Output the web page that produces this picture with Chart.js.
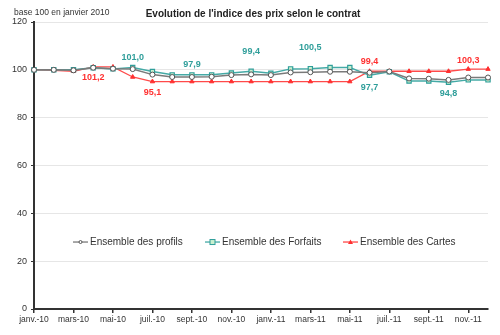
<!DOCTYPE html>
<html lang="fr">
<head>
<meta charset="utf-8">
<style>
  html, body { margin: 0; padding: 0; background: #fff; }
  #wrap { width: 500px; height: 335px; position: relative; }
</style>
</head>
<body>
<div id="wrap"><canvas id="myChart" width="500" height="335"></canvas></div>
<script src="https://cdn.jsdelivr.net/npm/chart.js"></script>
<script>
// months janv.-10 .. déc.-11
const months = ['janv.-10', 'févr.-10', 'mars-10', 'avr.-10', 'mai-10', 'juin-10',
  'juil.-10', 'août-10', 'sept.-10', 'oct.-10', 'nov.-10', 'déc.-10',
  'janv.-11', 'févr.-11', 'mars-11', 'avr.-11', 'mai-11', 'juin-11',
  'juil.-11', 'août-11', 'sept.-11', 'oct.-11', 'nov.-11', 'déc.-11'];

const profils = [100, 100, 99.8, 100.9, 100.5, 100.3, 98.0, 97.0, 97.0, 97.1, 97.8, 98.1,
  97.8, 98.9, 99.0, 99.2, 99.2, 98.8, 99.3, 96.4, 96.3, 95.8, 96.8, 96.8];
const forfaits = [100, 100, 100, 100.9, 100.4, 101.0, 99.3, 97.9, 97.9, 97.9, 98.7, 99.4,
  98.6, 100.4, 100.5, 101.0, 101.0, 97.7, 99.2, 95.3, 95.3, 94.8, 95.8, 95.8];
const cartes = [100, 99.8, 99.4, 101.2, 101.2, 97.0, 95.1, 95.1, 95.1, 95.1, 95.1, 95.1,
  95.1, 95.1, 95.1, 95.1, 95.1, 99.4, 99.4, 99.4, 99.4, 99.4, 100.3, 100.3];

const yTicks = [0, 20, 40, 60, 80, 100, 120];

const seriesNames = ['Ensemble des profils', 'Ensemble des Forfaits', 'Ensemble des Cartes'];

// value labels: [dataset, month index]
const forfaitLabels = [5, 8, 11, 14, 17, 21];
const carteLabels = [3, 6, 17, 22];

const TEAL = '#2f9e9a';
const RED = '#ff3030';
const GREY = '#7a7a7a';

// label offsets (px, negative = above)
const labelDy = {
  forfaits: [-10, -10, -20, -21, 12, 11],
  cartes: [11, 11, -10, -9]
};

const fmt = v => v.toFixed(1).replace('.', ',');

const extras = {
  id: 'extras',
  afterDraw(chart) {
    const ctx = chart.ctx;
    const x = chart.scales.x, y = chart.scales.y;
    ctx.save();
    // title + base note
    ctx.fillStyle = '#222';
    ctx.textBaseline = 'middle';
    ctx.textAlign = 'center';
    ctx.font = 'bold 10px "Liberation Sans", Arial, sans-serif';
    ctx.fillText("Evolution de l'indice des prix selon le contrat", 253, 14);
    ctx.textAlign = 'left';
    ctx.font = '8.5px "Liberation Sans", Arial, sans-serif';
    ctx.fillStyle = '#333';
    ctx.fillText('base 100 en janvier 2010', 14, 13);

    // value labels
    ctx.font = 'bold 9px "Liberation Sans", Arial, sans-serif';
    ctx.textAlign = 'center';
    ctx.fillStyle = TEAL;
    forfaitLabels.forEach((i, k) => {
      ctx.fillText(fmt(forfaits[i]), x.getPixelForValue(i), y.getPixelForValue(forfaits[i]) + labelDy.forfaits[k]);
    });
    ctx.fillStyle = RED;
    carteLabels.forEach((i, k) => {
      ctx.fillText(fmt(cartes[i]), x.getPixelForValue(i), y.getPixelForValue(cartes[i]) + labelDy.cartes[k]);
    });

    // legend inside plot
    const ly = y.getPixelForValue(28);
    const starts = [73, 205, 343];
    ctx.font = '10px "Liberation Sans", Arial, sans-serif';
    ctx.textAlign = 'left';
    chart.data.datasets.forEach((ds, k) => {
      const sx = starts[k];
      ctx.strokeStyle = ds.borderColor;
      ctx.lineWidth = 1.3;
      ctx.beginPath(); ctx.moveTo(sx, ly); ctx.lineTo(sx + 15, ly); ctx.stroke();
      ctx.fillStyle = ds.pointBackgroundColor;
      ctx.strokeStyle = ds.pointBorderColor;
      ctx.lineWidth = 1;
      if (k === 0) {
        ctx.beginPath(); ctx.arc(sx + 7.5, ly, 1.5, 0, Math.PI * 2); ctx.fill(); ctx.stroke();
      } else if (k === 1) {
        ctx.fillRect(sx + 5, ly - 2.5, 5, 5); ctx.strokeRect(sx + 5, ly - 2.5, 5, 5);
      } else {
        ctx.beginPath(); ctx.moveTo(sx + 7.5, ly - 2.5); ctx.lineTo(sx + 10, ly + 2); ctx.lineTo(sx + 5, ly + 2); ctx.closePath(); ctx.fill();
      }
      ctx.fillStyle = '#333';
      ctx.fillText(ds.label, sx + 17, ly + 0.5);
    });
    ctx.restore();
  }
};

new Chart(document.getElementById('myChart'), {
  type: 'line',
  data: {
    labels: months,
    datasets: [
      { label: seriesNames[0], data: profils, borderColor: GREY, borderWidth: 1.5,
        pointStyle: 'circle', pointRadius: 2.5, pointBackgroundColor: '#fff', pointBorderColor: '#555', pointBorderWidth: 1 },
      { label: seriesNames[1], data: forfaits, borderColor: '#45aaa6', borderWidth: 1.5,
        pointStyle: 'rect', pointRadius: 3, pointBackgroundColor: '#c9f0cf', pointBorderColor: TEAL, pointBorderWidth: 1.2 },
      { label: seriesNames[2], data: cartes, borderColor: '#ff4a4a', borderWidth: 1.3,
        pointStyle: 'triangle', pointRadius: 2.5, pointBackgroundColor: RED, pointBorderColor: RED, pointBorderWidth: 1 }
    ]
  },
  options: {
    responsive: false,
    animation: false,
    layout: { padding: { left: 0, right: 12, top: 22, bottom: 0 } },
    plugins: { legend: { display: false }, tooltip: { enabled: false } },
    scales: {
      x: {
        offset: false,
        border: { color: '#333', width: 2 },
        grid: { drawOnChartArea: false, drawTicks: true, tickLength: 4, color: '#333', lineWidth: 1.5 },
        ticks: {
          autoSkip: false, maxRotation: 0, padding: 2, color: '#333',
          font: { family: '"Liberation Sans", Arial, sans-serif', size: 8.5 },
          callback: (v, i) => (i % 2 === 0 ? months[i] : null)
        },
        afterFit: s => { s.height = 26; }
      },
      y: {
        min: 0, max: 120,
        afterBuildTicks: s => { s.ticks = yTicks.map(v => ({ value: v })); },
        border: { color: '#333', width: 2 },
        grid: { color: '#e6e6e6', lineWidth: 1, tickLength: 3, tickColor: '#333' },
        ticks: { color: '#333', padding: 4, font: { family: '"Liberation Sans", Arial, sans-serif', size: 9 } },
        afterFit: s => { s.width = 34; }
      }
    }
  },
  plugins: [extras]
});
</script>
</body>
</html>
